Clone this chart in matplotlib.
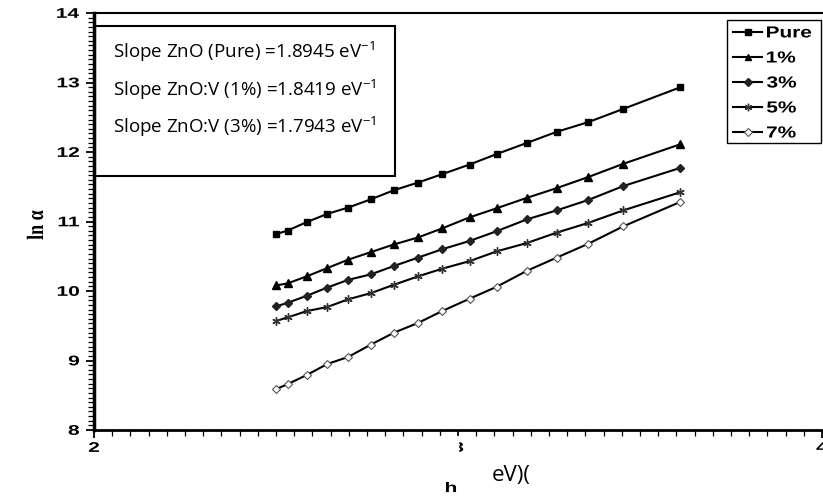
import matplotlib
matplotlib.use("Agg")
import matplotlib.pyplot as plt
from matplotlib.font_manager import FontProperties
from matplotlib.lines import Line2D
from matplotlib.patches import PathPatch, Rectangle
from matplotlib.textpath import TextPath
from matplotlib.ticker import MultipleLocator
from matplotlib.transforms import Affine2D

# photon energy h-nu (eV) and ln(alpha) for each film
hv = [2.501, 2.532, 2.584, 2.641, 2.698, 2.761, 2.824, 2.890,
      2.956, 3.032, 3.106, 3.189, 3.271, 3.358, 3.454, 3.610]
ln_pure = [10.82, 10.87, 10.99, 11.11, 11.20, 11.32, 11.45, 11.56,
           11.68, 11.82, 11.97, 12.13, 12.29, 12.43, 12.62, 12.93]
ln_1 = [10.08, 10.11, 10.21, 10.33, 10.45, 10.56, 10.67, 10.77,
        10.90, 11.06, 11.19, 11.34, 11.48, 11.64, 11.83, 12.11]
ln_3 = [9.78, 9.83, 9.93, 10.05, 10.16, 10.24, 10.36, 10.48,
        10.60, 10.72, 10.86, 11.03, 11.16, 11.31, 11.51, 11.77]
ln_5 = [9.57, 9.62, 9.71, 9.77, 9.88, 9.97, 10.09, 10.21,
        10.32, 10.43, 10.57, 10.69, 10.84, 10.98, 11.16, 11.42]
ln_7 = [8.59, 8.66, 8.79, 8.95, 9.05, 9.23, 9.40, 9.54,
        9.71, 9.89, 10.06, 10.29, 10.48, 10.68, 10.93, 11.28]

labels = ["Pure", "1%", "3%", "5%", "7%"]
x_ticks = [2, 3, 4]
y_ticks = [8, 9, 10, 11, 12, 13, 14]
slope_lines = ["Slope ZnO (Pure) =1.8945 eV$^{-1}$",
               "Slope ZnO:V (1%) =1.8419 eV$^{-1}$",
               "Slope ZnO:V (3%) =1.7943 eV$^{-1}$"]

plt.rcParams["mathtext.fontset"] = "custom"
plt.rcParams["mathtext.rm"] = "Open Sans"
plt.rcParams["mathtext.default"] = "rm"

W, H = 823, 496
fig = plt.figure(figsize=(W / 100, H / 100), dpi=100)
# pixel coordinates measured from the top-left corner
pix = Affine2D().scale(1, -1).translate(0, H)


def wide_text(x, y, s, px, ha="center", va="center", rot=0, sx=1.5,
              family="Liberation Sans", weight="bold"):
    """Text drawn as a path, stretched sideways like the pasted chart."""
    path = TextPath((0, 0), s, size=px,
                    prop=FontProperties(family=family, weight=weight))
    ext = path.get_extents()
    ox = {"left": ext.x0, "center": (ext.x0 + ext.x1) / 2, "right": ext.x1}[ha]
    oy = {"bottom": ext.y0, "center": (ext.y0 + ext.y1) / 2, "top": ext.y1}[va]
    tr = (Affine2D().translate(-ox, -oy).rotate_deg(rot).scale(sx, 1)
          .translate(x, H - y))
    fig.add_artist(PathPatch(path, transform=tr, facecolor="black",
                             edgecolor="none", zorder=4))


ax = fig.add_axes([94 / W, 1 - 430 / H, (822 - 94) / W, (430 - 13) / H])

styles = [
    dict(marker="s", ms=5, mfc="black", mec="black"),
    dict(marker="^", ms=5.5, mfc="black", mec="black"),
    dict(marker="D", ms=4, mfc="#222222", mec="#222222"),
    dict(marker=(6, 2, 0), ms=6, mfc="black", mec="#333333", mew=1),
    dict(marker="D", ms=4.5, mfc="white", mec="#555555", mew=0.8),
]
series = [ln_pure, ln_1, ln_3, ln_5, ln_7]
for y, lab, st in zip(series, labels, styles):
    ax.plot(hv, y, color="black", lw=1.5, label=lab, **st)

ax.set_xlim(2, 4)
ax.set_ylim(8, 14)
ax.set_xticks(x_ticks)
ax.set_yticks(y_ticks)
ax.xaxis.set_minor_locator(MultipleLocator(0.05))
ax.yaxis.set_minor_locator(MultipleLocator(1 / 15))

ax.spines["left"].set_linewidth(2.5)
ax.spines["bottom"].set_linewidth(2)
ax.spines["top"].set_linewidth(1.5)
ax.spines["right"].set_visible(False)

ax.tick_params(which="major", direction="out", length=6, width=1.3,
               labelleft=False, labelbottom=False)
ax.tick_params(which="minor", direction="out", length=4, width=0.9)
ax.tick_params(top=False, right=False)

# tick labels placed from the axes' own data transform
for v in y_ticks:
    yd = ax.transData.transform((2, v))[1]
    wide_text(79, H - yd, str(v), 14, ha="right")
for v in x_ticks:
    xd = ax.transData.transform((v, 8))[0]
    wide_text(xd, 447, str(v), 14)

wide_text(35, 225, "ln α", 18, rot=90, sx=1.3,
          family="Liberation Serif")

# axis title, with the middle tick label partly covered
fig.add_artist(Rectangle((440, 436), 18, 22, transform=pix,
                         color="white", zorder=10))
wide_text(451, 487, "h", 14)
fig.text(492 / W, 1 - 475 / H, "eV)(", ha="left", va="center", fontsize=16,
         family="Open Sans", zorder=11)

# slope annotation box
fig.add_artist(Rectangle((95, 176), 395 - 95, -(176 - 26), transform=pix,
                         fill=False, lw=1.5, edgecolor="black"))
for i, s in enumerate(slope_lines):
    fig.text(113 / W, 1 - (52 + 37.5 * i) / H, s, ha="left", va="center",
             fontsize=13.5, family="Open Sans")

# legend
fig.add_artist(Rectangle((727, 143), 821 - 727, -(143 - 20), transform=pix,
                         fill=False, lw=1.0, edgecolor="black"))
for i, (lab, st) in enumerate(zip(labels, styles)):
    ly = 32 + 25 * i
    fig.add_artist(Line2D([733, 762], [ly, ly], transform=pix,
                          color="black", lw=1.5))
    fig.add_artist(Line2D([747.5], [ly], transform=pix, color="black",
                          **{**st, "ms": st["ms"] * 0.9}))
    wide_text(767, ly, lab, 16, ha="left", sx=1.3)

fig.savefig("out.png", dpi=100)
